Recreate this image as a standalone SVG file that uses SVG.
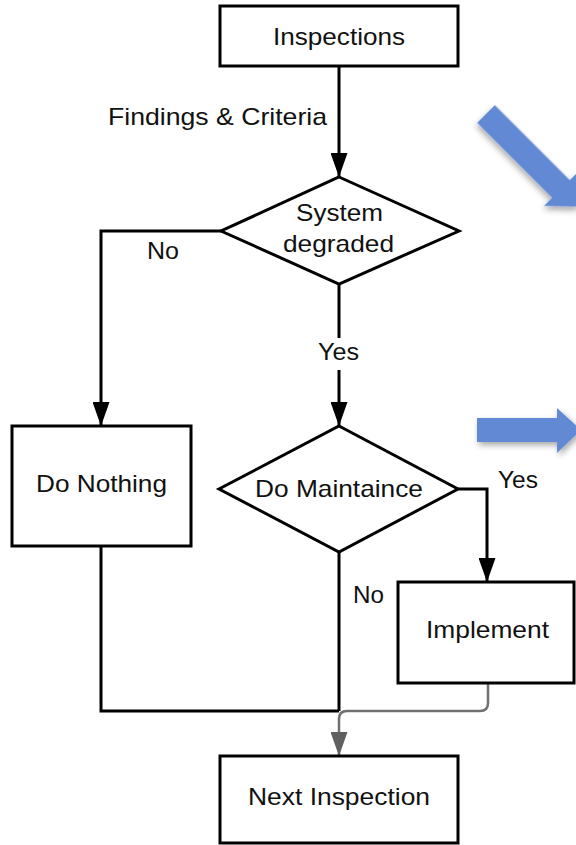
<svg xmlns="http://www.w3.org/2000/svg" width="576" height="845" viewBox="0 0 576 845">
<style>
.box{fill:#fff;stroke:#000;stroke-width:3}
.ln{fill:none;stroke:#000;stroke-width:3}
.gl{fill:none;stroke:#707070;stroke-width:2.5}
text{font-family:"Liberation Sans",Arial,sans-serif;font-size:24px;fill:#111}
.blue{fill:#628AD4}
</style>
<defs>
<marker id="ah" markerUnits="userSpaceOnUse" markerWidth="24" markerHeight="17" refX="24" refY="8.5" orient="auto">
<path d="M0,0 L24,8.5 L0,17 z" fill="#000"/>
</marker>
<marker id="ahg" markerUnits="userSpaceOnUse" markerWidth="24" markerHeight="17" refX="24" refY="8.5" orient="auto">
<path d="M0,0 L24,8.5 L0,17 z" fill="#606060"/>
</marker>
<filter id="sh" x="-20%" y="-20%" width="140%" height="140%">
<feDropShadow dx="2" dy="3" stdDeviation="3" flood-color="#000" flood-opacity="0.35"/>
</filter>
</defs>
<rect width="576" height="845" fill="#fff"/>

<g id="blue-arrows">
<polygon class="blue" filter="url(#sh)" points="477,418 557,418 557,408 581,430 557,453 557,442 477,442"/>
<polygon class="blue" filter="url(#sh)" transform="translate(486,114) rotate(45)" points="0,-12.5 106,-12.5 106,-24 131,0 106,24 106,12.5 0,12.5"/>
</g>

<g id="connectors">
<path class="ln" d="M339,66 V177" marker-end="url(#ah)"/>
<path class="ln" d="M221,231 H101 V426" marker-end="url(#ah)"/>
<path class="ln" d="M339,284 V426" marker-end="url(#ah)"/>
<path class="ln" d="M458,489 H487 V582" marker-end="url(#ah)"/>
<path class="ln" d="M339,552 V711"/>
<path class="ln" d="M101,546 V711 H339"/>
<path class="gl" d="M488,683 V703 Q488,711 480,711 H347 Q339,711 339,719 V756" marker-end="url(#ahg)"/>
<text x="108" y="125" textLength="219" lengthAdjust="spacingAndGlyphs">Findings &amp; Criteria</text>
<text x="147" y="259" textLength="32" lengthAdjust="spacingAndGlyphs">No</text>
<rect x="315" y="338" width="48" height="32" fill="#fff"/>
<text x="318" y="360" textLength="41" lengthAdjust="spacingAndGlyphs">Yes</text>
<text x="498" y="488" textLength="40" lengthAdjust="spacingAndGlyphs">Yes</text>
<text x="353" y="603" textLength="31" lengthAdjust="spacingAndGlyphs">No</text>
</g>

<g id="inspections">
<rect class="box" x="220" y="6" width="238" height="60"/>
<text x="273" y="45" textLength="132" lengthAdjust="spacingAndGlyphs">Inspections</text>
</g>

<g id="system-degraded">
<polygon class="box" points="339,177 459,231 339,284 221,231"/>
<text x="296" y="221" textLength="87" lengthAdjust="spacingAndGlyphs">System</text>
<text x="283" y="252" textLength="111" lengthAdjust="spacingAndGlyphs">degraded</text>
</g>

<g id="do-nothing">
<rect class="box" x="12" y="426" width="179" height="120"/>
<text x="36" y="492" textLength="131" lengthAdjust="spacingAndGlyphs">Do Nothing</text>
</g>

<g id="do-maintaince">
<polygon class="box" points="339,426 458,489 339,552 219,489"/>
<text x="255" y="497" textLength="168" lengthAdjust="spacingAndGlyphs">Do Maintaince</text>
</g>

<g id="implement">
<rect class="box" x="398" y="582" width="176" height="101"/>
<text x="426" y="638" textLength="123" lengthAdjust="spacingAndGlyphs">Implement</text>
</g>

<g id="next-inspection">
<rect class="box" x="220" y="756" width="238" height="87"/>
<text x="248" y="805" textLength="182" lengthAdjust="spacingAndGlyphs">Next Inspection</text>
</g>
</svg>
